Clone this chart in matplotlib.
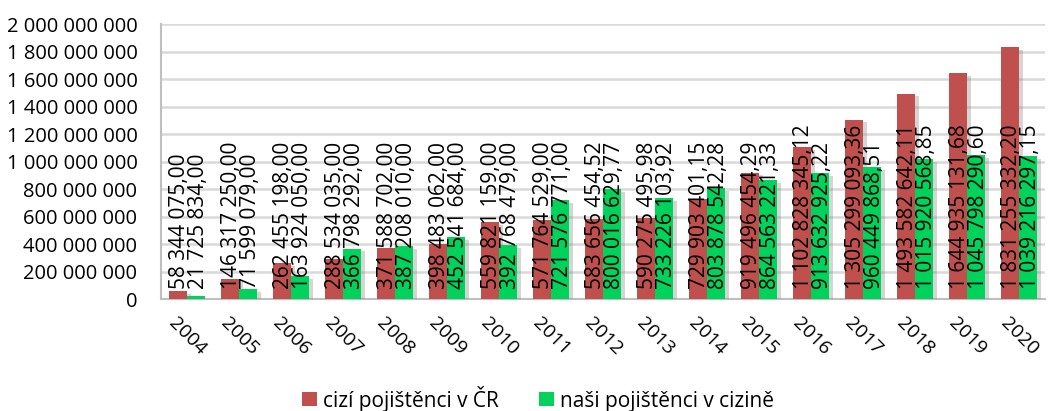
import numpy as np
import matplotlib
matplotlib.use("Agg")
import matplotlib.pyplot as plt
import matplotlib.patheffects as pe
from matplotlib.patches import Patch
from matplotlib.ticker import FuncFormatter

plt.rcParams['font.family'] = ['Open Sans', 'DejaVu Sans']

years = [str(y) for y in range(2004, 2021)]
cizi = [58344075.00, 146317250.00, 262455198.00, 288534035.00, 371588702.00,
        398483062.00, 559821159.00, 571764529.00, 583656454.52, 590275495.98,
        729903401.15, 919496454.29, 1102828345.12, 1305299093.36, 1493582642.11,
        1644935131.68, 1831255332.20]
nasi = [21725834.00, 71599079.00, 163924050.00, 366798292.00, 387208010.00,
        452541684.00, 392768479.00, 721576771.00, 800016629.77, 733226103.92,
        803878542.28, 864563221.33, 913632925.22, 960449868.51, 1015920568.85,
        1045798290.60, 1039216297.15]
series_names = ['cizí pojištěnci v ČR', 'naši pojištěnci v cizině']
colors = ['#C0504D', '#00D25B']


def cz(v, decimals=2):
    s = f"{v:,.{decimals}f}"
    return s.replace(",", " ").replace(".", ",")


FS = 15
fig = plt.figure(figsize=(10.55, 4.11), dpi=100)
ax = fig.add_axes([0.1526, 0.2725, 0.8379, 0.669])

x = np.arange(len(years))
w = 0.35
shadow = [pe.SimplePatchShadow(offset=(3, -2), shadow_rgbFace='#888888', alpha=0.35), pe.Normal()]
cap = 0.714 * FS  # approx cap height in points
for i, (vals, c) in enumerate(zip([cizi, nasi], colors)):
    pos = x + (i - 0.5) * w
    bars = ax.bar(pos, vals, width=w, color=c, zorder=3)
    for b in bars:
        b.set_path_effects(shadow)
    for px, v in zip(pos, vals):
        ax.annotate(cz(v), (px, 0), xytext=(cap / 2, 7), textcoords='offset points',
                    rotation=90, rotation_mode='anchor', ha='left', va='baseline',
                    fontsize=FS, color='black', zorder=5)

ax.set_xlim(-0.5, len(years) - 0.5)
ax.set_ylim(0, 2000000000)
ax.set_yticks(np.arange(0, 2000000001, 200000000))
ax.yaxis.set_major_formatter(FuncFormatter(lambda v, p: cz(v, 0)))
ax.grid(axis='y', color='#D9D9D9', linewidth=1.8, zorder=0)
ax.set_xticks(x)
ax.set_xticklabels(years, rotation=-45, ha='center', va='top', fontsize=FS - 1)
ax.tick_params(axis='y', labelsize=FS - 0.5, length=0, pad=17)
ax.tick_params(axis='x', length=0, pad=11)
for s in ['top', 'right']:
    ax.spines[s].set_visible(False)
for s in ['left', 'bottom']:
    ax.spines[s].set_color('#BFBFBF')
    ax.spines[s].set_linewidth(1.5)

handles = [Patch(facecolor=c, label=n) for c, n in zip(colors, series_names)]
fig.legend(handles=handles, loc='center', bbox_to_anchor=(538 / 1055, 0.03), ncol=2,
           frameon=False, fontsize=FS, handlelength=0.72, handleheight=0.65,
           handletextpad=0.3, columnspacing=1.9)

fig.savefig('out.png', dpi=100)
